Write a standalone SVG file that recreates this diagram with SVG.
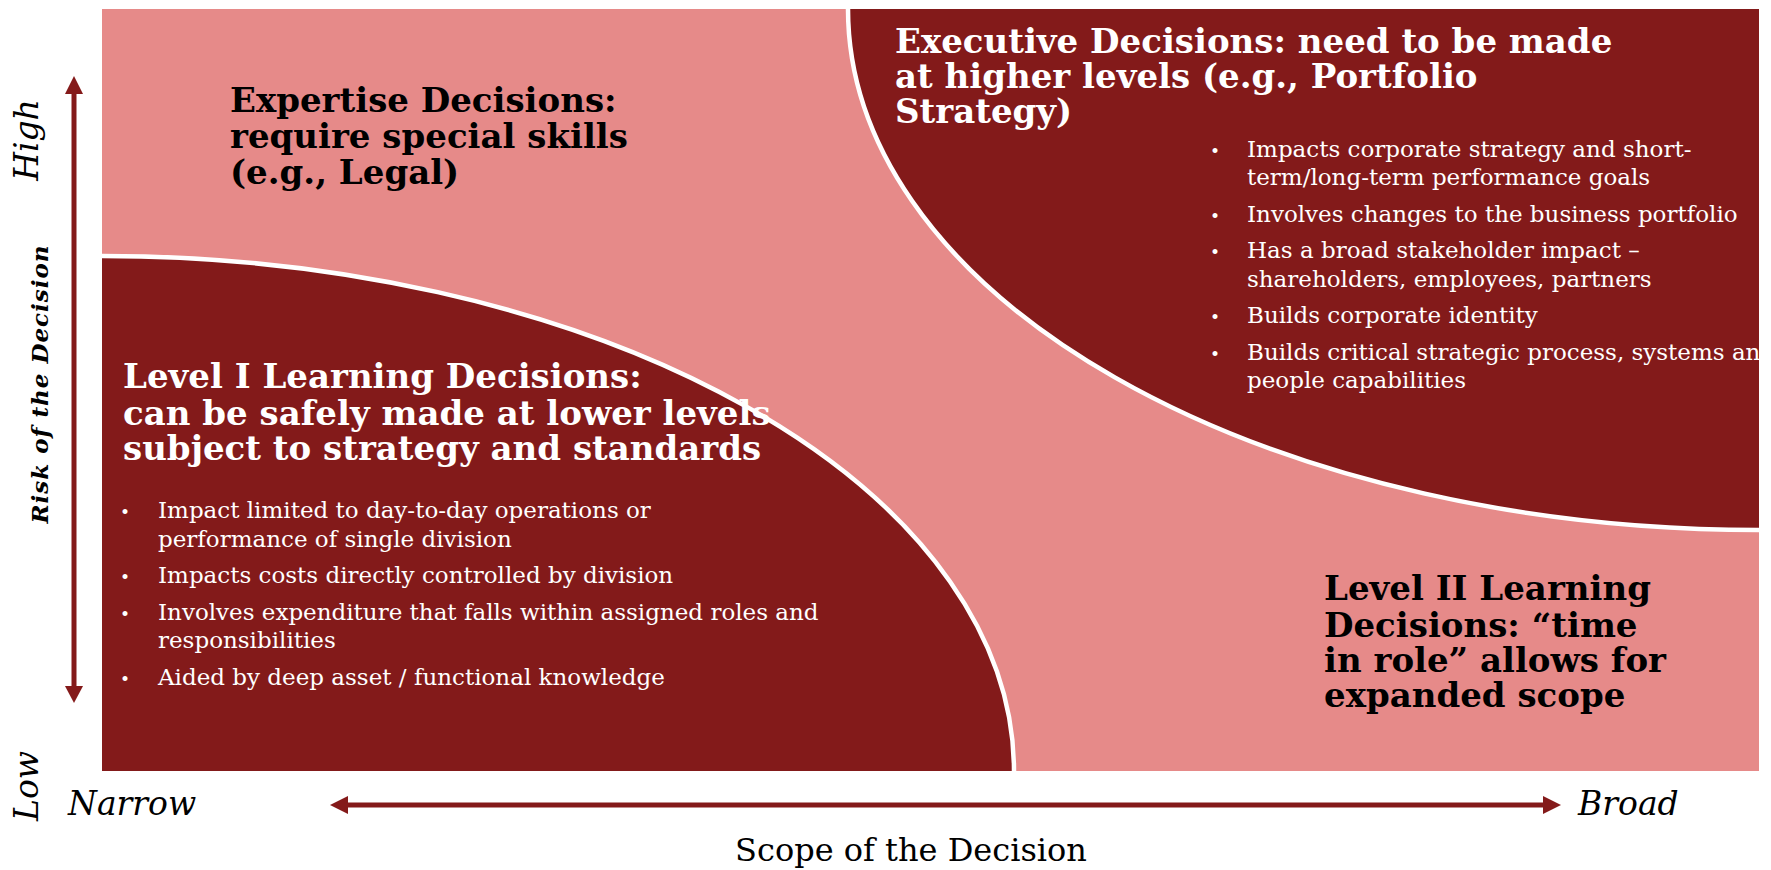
<svg xmlns="http://www.w3.org/2000/svg" width="1771" height="870" viewBox="0 0 1771 870">
  <defs>
    <style>
      .head { font-family: "DejaVu Serif", "Liberation Serif", serif; font-weight: bold; font-size: 34px; }
      .body { font-family: "DejaVu Serif", "Liberation Serif", serif; font-size: 23px; fill: #ffffff; }
      .dot { font-family: "DejaVu Serif", serif; font-size: 17px; fill: #ffffff; }
      .light { fill: #ffffff; }
      .dark { fill: #000000; }
      .axis { font-family: "DejaVu Serif", "Liberation Serif", serif; font-style: italic; font-size: 33px; fill: #000000; }
      .divider { fill: none; stroke: #ffffff; stroke-width: 4.5; }
      .arrow { fill: #841a1a; }
    </style>
  </defs>

  <!-- quadrant field -->
  <rect id="field" x="102" y="9" width="1657" height="762" fill="#e68a89"/>

  <!-- Executive decisions region (upper right) -->
  <g id="executive">
    <path d="M 848 9 A 911 521 0 0 0 1759 530 L 1759 9 Z" fill="#831a1a"/>
    <path class="divider" d="M 848 9 A 911 521 0 0 0 1759 530"/>
    <text class="head light" x="895" y="53">Executive Decisions: need to be made</text>
    <text class="head light" x="895" y="88">at higher levels (e.g., Portfolio</text>
    <text class="head light" x="895" y="123">Strategy)</text>
    <g class="body">
      <text class="dot" x="1210" y="157">•</text>
      <text x="1247" y="157">Impacts corporate strategy and short-</text>
      <text x="1247" y="185">term/long-term performance goals</text>
      <text class="dot" x="1210" y="222">•</text>
      <text x="1247" y="222">Involves changes to the business portfolio</text>
      <text class="dot" x="1210" y="258">•</text>
      <text x="1247" y="258">Has a broad stakeholder impact –</text>
      <text x="1247" y="287">shareholders, employees, partners</text>
      <text class="dot" x="1210" y="323">•</text>
      <text x="1247" y="323">Builds corporate identity</text>
      <text class="dot" x="1210" y="360">•</text>
      <text x="1247" y="360">Builds critical strategic process, systems and</text>
      <text x="1247" y="388">people capabilities</text>
    </g>
  </g>

  <!-- Level I learning decisions region (lower left) -->
  <g id="level-one">
    <path d="M 102 256 A 912 515 0 0 1 1014 771 L 102 771 Z" fill="#831a1a"/>
    <path class="divider" d="M 102 256 A 912 515 0 0 1 1014 771"/>
    <text class="head light" x="123" y="388">Level I Learning Decisions:</text>
    <text class="head light" x="123" y="425">can be safely made at lower levels</text>
    <text class="head light" x="123" y="460">subject to strategy and standards</text>
    <g class="body">
      <text class="dot" x="120" y="518">•</text>
      <text x="158" y="518">Impact limited to day-to-day operations or</text>
      <text x="158" y="547">performance of single division</text>
      <text class="dot" x="120" y="583">•</text>
      <text x="158" y="583">Impacts costs directly controlled by division</text>
      <text class="dot" x="120" y="620">•</text>
      <text x="158" y="620">Involves expenditure that falls within assigned roles and</text>
      <text x="158" y="648">responsibilities</text>
      <text class="dot" x="120" y="685">•</text>
      <text x="158" y="685">Aided by deep asset / functional knowledge</text>
    </g>
  </g>

  <!-- Expertise decisions (upper left) -->
  <g id="expertise">
    <text class="head dark" x="230" y="112">Expertise Decisions:</text>
    <text class="head dark" x="230" y="148">require special skills</text>
    <text class="head dark" x="230" y="184">(e.g., Legal)</text>
  </g>

  <!-- Level II learning decisions (lower right) -->
  <g id="level-two">
    <text class="head dark" x="1324" y="600">Level II Learning</text>
    <text class="head dark" x="1324" y="637">Decisions: “time</text>
    <text class="head dark" x="1324" y="672">in role” allows for</text>
    <text class="head dark" x="1324" y="707">expanded scope</text>
  </g>

  <!-- axes -->
  <g id="axes">
    <rect class="arrow" x="71.5" y="92" width="5" height="596"/>
    <polygon class="arrow" points="74,76 65,94 83,94"/>
    <polygon class="arrow" points="74,703 65,686 83,686"/>
    <rect class="arrow" x="345" y="802.5" width="1200" height="5"/>
    <polygon class="arrow" points="330,805 348,796 348,814"/>
    <polygon class="arrow" points="1561,805 1543,796 1543,814"/>
  </g>

  <g id="axis-labels">
    <text class="axis" transform="translate(38,140) rotate(-90)" text-anchor="middle">High</text>
    <text class="axis" transform="translate(38,786) rotate(-90)" text-anchor="middle">Low</text>
    <text transform="translate(48,384) rotate(-90)" text-anchor="middle" font-family="DejaVu Serif, serif" font-weight="bold" font-style="italic" font-size="23" letter-spacing="1">Risk of the Decision</text>
    <text class="axis" x="68" y="815" font-size="34">Narrow</text>
    <text class="axis" x="1578" y="815">Broad</text>
    <text x="911" y="861" text-anchor="middle" font-family="DejaVu Serif, serif" font-size="32">Scope of the Decision</text>
  </g>
</svg>
